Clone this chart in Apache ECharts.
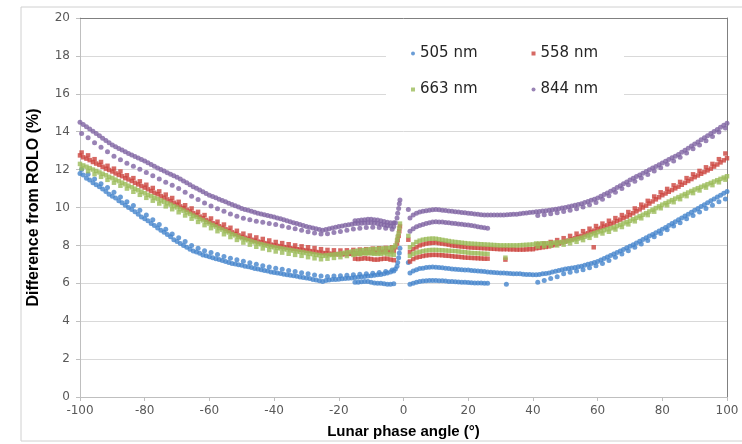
<!DOCTYPE html>
<html>
<head>
<meta charset="utf-8">
<script src="https://cdn.jsdelivr.net/npm/echarts@6/dist/echarts.min.js"></script>
<style>
  html, body { margin: 0; padding: 0; background: #fff; }
  #chart { width: 742px; height: 444px; }
</style>
</head>
<body>
<div id="chart"></div>
<script>
    // 系列名称 / series names
    var seriesNames = ['505 nm', '558 nm', '663 nm', '844 nm'];
    var seriesColors = ['#4584cc', '#cc433d', '#9bbb59', '#8064a2'];
    var seriesSymbols = ['circle', 'rect', 'rect', 'circle'];
    var seriesSizes = [5, 4.5, 4.5, 5];
    var xTicks = [-100, -80, -60, -40, -20, 0, 20, 40, 60, 80, 100];

    // phase angle grids of the tracks (degrees)
    var xNeg = [-100,-99,-98,-97,-96,-95,-94,-93,-92,-91,
        -90,-89,-88,-87,-86,-85,-84,-83,-82,-81,
        -80,-79,-78,-77,-76,-75,-74,-73,-72,-71,
        -70,-69,-68,-67,-66,-65,-64,-63,-62,-61,
        -60,-59,-58,-57,-56,-55,-54,-53,-52,-51,
        -50,-49,-48,-47,-46,-45,-44,-43,-42,-41,
        -40,-39,-38,-37,-36,-35,-34,-33,-32,-31,
        -30,-29,-28,-27,-26,-25,-24,-23,-22,-21,
        -20,-19,-18,-17,-16,-15,-14,-13,-12,-11,
        -10,-9,-8,-7,-6,-5,-4,-3];
    var xNeg2 = [-99.5,-97.5,-95.5,-93.5,-91.5,-89.5,-87.5,-85.5,-83.5,-81.5,
        -79.5,-77.5,-75.5,-73.5,-71.5,-69.5,-67.5,-65.5,-63.5,-61.5,
        -59.5,-57.5,-55.5,-53.5,-51.5,-49.5,-47.5,-45.5,-43.5,-41.5,
        -39.5,-37.5,-35.5,-33.5,-31.5,-29.5,-27.5,-25.5,-23.5,-21.5,
        -19.5,-17.5,-15.5,-13.5,-11.5,-9.5,-7.5,-5.5,-3.5];
    var xIn = [-15,-14,-13,-12,-11,-10,-9,-8,-7,-6,-5,-4,-3];
    var xSpike = [-2.5,-2,-1.8,-1.5,-1.3,-1.1];
    var xPosU = [2,3,4,5,6,7,8,9,10,11,
        12,13,14,15,16,17,18,19,20,21,
        22,23,24,25,26,27,28,29,30,31,
        32,33,34,35,36,37,38,39,40];
    var xPosL = [2,3,4,5,6,7,8,9,10,11,
        12,13,14,15,16,17,18,19,20,21,
        22,23,24,25,26];
    var xRise = [41,42,43,44,45,46,47,48,49,50,
        51,52,53,54,55,56,57,58,59,60,
        61,62,63,64,65,66,67,68,69,70,
        71,72,73,74,75,76,77,78,79,80,
        81,82,83,84,85,86,87,88,89,90,
        91,92,93,94,95,96,97,98,99,100];
    var xRise2 = [41.5,43.5,45.5,47.5,49.5,51.5,53.5,55.5,57.5,59.5,
        61.5,63.5,65.5,67.5,69.5,71.5,73.5,75.5,77.5,79.5,
        81.5,83.5,85.5,87.5,89.5,91.5,93.5,95.5,97.5,99.5];

    // 505 nm (%)
    var y505NegMain = [11.8,11.72,11.55,11.45,11.3,11.2,11.1,10.98,10.85,10.7,
        10.6,10.5,10.35,10.25,10.12,10.0,9.9,9.78,9.65,9.5,
        9.4,9.3,9.15,9.05,8.92,8.8,8.7,8.58,8.45,8.3,
        8.2,8.1,8.0,7.9,7.8,7.7,7.65,7.58,7.5,7.45,
        7.4,7.35,7.3,7.25,7.2,7.15,7.1,7.05,7.02,6.98,
        6.95,6.9,6.87,6.83,6.78,6.75,6.72,6.68,6.65,6.6,
        6.57,6.55,6.52,6.48,6.45,6.42,6.4,6.37,6.33,6.3,
        6.28,6.25,6.2,6.17,6.13,6.1,6.15,6.18,6.2,6.2,
        6.22,6.24,6.25,6.27,6.28,6.3,6.32,6.34,6.36,6.38,
        6.4,6.42,6.45,6.47,6.5,6.55,6.6,6.65];
    var y505NegSub = [12.0,11.75,11.5,11.25,11.05,10.8,10.55,10.3,10.1,9.85,
        9.6,9.35,9.1,8.85,8.6,8.4,8.2,8.0,7.85,7.72,
        7.62,7.52,7.42,7.32,7.24,7.16,7.08,7.0,6.93,6.86,
        6.8,6.74,6.68,6.62,6.56,6.5,6.44,6.38,6.36,6.38,
        6.4,6.42,6.45,6.48,6.5,6.53,6.57,6.62,6.7];
    var y505NegIn = [6.05,6.05,6.08,6.1,6.1,6.05,6.02,6.0,6.0,5.98,5.95,5.95,5.98];
    var y505Spike = [6.75,6.9,7.1,7.35,7.6,7.85];
    var y505PosU = [6.55,6.65,6.72,6.78,6.8,6.83,6.85,6.86,6.85,6.84,
        6.82,6.8,6.78,6.76,6.74,6.73,6.72,6.7,6.7,6.68,
        6.66,6.65,6.63,6.62,6.6,6.58,6.57,6.56,6.55,6.54,
        6.53,6.52,6.5,6.5,6.5,6.48,6.47,6.46,6.45];
    var y505PosL = [5.95,6.0,6.05,6.1,6.12,6.14,6.15,6.15,6.15,6.14,
        6.13,6.12,6.1,6.1,6.08,6.07,6.06,6.05,6.04,6.03,
        6.02,6.02,6.01,6.0,6.0];
    var y505Rise = [6.45,6.47,6.5,6.52,6.55,6.6,6.64,6.67,6.71,6.75,
        6.78,6.81,6.84,6.87,6.9,6.95,7.0,7.05,7.1,7.15,
        7.23,7.31,7.39,7.47,7.55,7.63,7.71,7.79,7.87,7.95,
        8.04,8.13,8.22,8.31,8.4,8.49,8.58,8.67,8.76,8.85,
        8.95,9.05,9.15,9.25,9.35,9.45,9.55,9.65,9.75,9.85,
        9.95,10.05,10.15,10.25,10.35,10.45,10.55,10.65,10.75,10.85];
    var y505RiseSub = [6.05,6.15,6.25,6.35,6.5,6.58,6.65,6.72,6.82,6.92,
        7.05,7.2,7.38,7.55,7.72,7.9,8.08,8.26,8.45,8.63,
        8.82,9.02,9.2,9.4,9.58,9.76,9.95,10.12,10.3,10.45];
    var x505Stray = [1.5, 31.8];
    var y505Stray = [7.1, 5.95];

    // 558 nm (%)
    var y558NegMain = [12.75,12.65,12.58,12.5,12.4,12.32,12.25,12.15,12.05,11.98,
        11.9,11.8,11.72,11.65,11.55,11.48,11.4,11.3,11.22,11.13,
        11.05,10.96,10.87,10.78,10.7,10.6,10.52,10.43,10.34,10.25,
        10.15,10.06,9.97,9.88,9.79,9.7,9.61,9.52,9.43,9.34,
        9.25,9.17,9.09,9.01,8.93,8.85,8.77,8.69,8.61,8.53,
        8.45,8.4,8.35,8.3,8.25,8.2,8.16,8.12,8.08,8.04,
        8.0,7.97,7.94,7.91,7.88,7.85,7.82,7.8,7.77,7.75,
        7.72,7.7,7.67,7.65,7.62,7.6,7.58,7.56,7.55,7.54,
        7.53,7.53,7.54,7.55,7.56,7.57,7.58,7.6,7.61,7.62,
        7.63,7.64,7.65,7.66,7.67,7.68,7.7,7.72];
    var y558NegSub = [12.9,12.75,12.55,12.4,12.2,12.05,11.9,11.7,11.55,11.38,
        11.2,11.03,10.85,10.68,10.5,10.3,10.12,9.95,9.77,9.6,
        9.42,9.25,9.1,8.93,8.77,8.62,8.52,8.42,8.34,8.26,
        8.18,8.12,8.06,8.0,7.95,7.9,7.86,7.8,7.76,7.74,
        7.73,7.74,7.76,7.78,7.8,7.83,7.85,7.87,7.9];
    var y558NegIn = [7.3,7.28,7.3,7.32,7.3,7.28,7.25,7.25,7.28,7.3,7.3,7.25,7.22];
    var y558Spike = [7.9,8.1,8.3,8.5,8.75,9.0];
    var y558PosU = [7.65,7.8,7.9,8.0,8.05,8.1,8.12,8.14,8.15,8.12,
        8.1,8.07,8.04,8.0,7.98,7.96,7.94,7.92,7.9,7.89,
        7.88,7.87,7.86,7.85,7.84,7.83,7.82,7.81,7.8,7.8,
        7.8,7.79,7.79,7.78,7.78,7.78,7.79,7.8,7.8];
    var y558PosL = [7.15,7.28,7.36,7.4,7.44,7.47,7.49,7.5,7.5,7.49,
        7.48,7.46,7.45,7.43,7.41,7.4,7.38,7.36,7.35,7.34,
        7.33,7.32,7.31,7.3,7.3];
    var y558Rise = [7.85,7.87,7.9,7.92,7.95,8.0,8.05,8.1,8.15,8.2,
        8.26,8.32,8.38,8.44,8.5,8.57,8.64,8.71,8.78,8.85,
        8.92,8.99,9.06,9.13,9.2,9.28,9.36,9.44,9.52,9.6,
        9.7,9.8,9.9,10.0,10.1,10.21,10.32,10.43,10.54,10.65,
        10.74,10.83,10.92,11.01,11.1,11.2,11.3,11.4,11.5,11.6,
        11.69,11.78,11.87,11.96,12.05,12.16,12.27,12.38,12.49,12.6];
    var y558RiseSub = [8.05,8.1,8.18,8.28,8.38,8.5,8.62,8.75,8.88,9.02,
        9.15,9.3,9.44,9.6,9.76,9.95,10.15,10.35,10.58,10.8,
        10.98,11.17,11.35,11.55,11.75,11.93,12.12,12.3,12.55,12.85];
    var x558Stray = [1.5, 31.5, 58.8];
    var y558Stray = [8.3, 7.25, 7.9];

    // 663 nm (%)
    var y663NegMain = [12.3,12.22,12.15,12.08,12.0,11.93,11.85,11.78,11.7,11.62,
        11.55,11.47,11.39,11.31,11.23,11.15,11.07,10.99,10.91,10.83,
        10.75,10.67,10.6,10.52,10.45,10.37,10.3,10.22,10.15,10.07,
        10.0,9.91,9.83,9.74,9.66,9.57,9.49,9.4,9.32,9.23,
        9.15,9.07,8.99,8.91,8.83,8.75,8.68,8.6,8.53,8.45,
        8.38,8.32,8.27,8.21,8.16,8.1,8.06,8.02,7.98,7.94,
        7.9,7.87,7.84,7.81,7.78,7.75,7.72,7.69,7.66,7.63,
        7.6,7.57,7.54,7.51,7.48,7.45,7.47,7.49,7.51,7.53,
        7.55,7.58,7.61,7.64,7.67,7.7,7.72,7.74,7.76,7.78,
        7.8,7.81,7.82,7.83,7.84,7.85,7.87,7.9];
    var y663NegSub = [12.06,11.92,11.76,11.62,11.46,11.31,11.15,11.0,10.83,10.67,
        10.51,10.36,10.21,10.06,9.91,9.75,9.58,9.41,9.24,9.07,
        8.91,8.75,8.59,8.44,8.29,8.15,8.04,7.93,7.84,7.76,
        7.68,7.62,7.56,7.5,7.45,7.38,7.32,7.27,7.3,7.34,
        7.38,7.44,7.5,7.54,7.57,7.6,7.62,7.64,7.68];
    var y663NegIn = [7.55,7.57,7.58,7.6,7.6,7.58,7.56,7.55,7.56,7.58,7.55,7.52,7.5];
    var y663Spike = [8.0,8.25,8.45,8.65,8.9,9.15];
    var y663PosU = [7.9,8.05,8.18,8.25,8.3,8.33,8.35,8.36,8.35,8.32,
        8.29,8.26,8.23,8.2,8.18,8.16,8.14,8.12,8.1,8.09,
        8.08,8.07,8.06,8.05,8.04,8.03,8.02,8.01,8.0,8.0,
        8.0,8.0,8.0,8.0,8.01,8.02,8.03,8.04,8.05];
    var y663PosL = [7.45,7.55,7.62,7.66,7.7,7.73,7.75,7.76,7.76,7.75,
        7.74,7.73,7.72,7.71,7.7,7.68,7.66,7.64,7.62,7.6,
        7.59,7.58,7.57,7.56,7.55];
    var y663Rise = [8.1,8.1,8.11,8.11,8.12,8.13,8.15,8.16,8.18,8.2,
        8.24,8.28,8.32,8.36,8.4,8.46,8.52,8.58,8.64,8.7,
        8.75,8.8,8.85,8.9,8.95,9.02,9.09,9.16,9.23,9.3,
        9.38,9.46,9.54,9.62,9.7,9.79,9.88,9.97,10.06,10.15,
        10.23,10.31,10.39,10.47,10.55,10.63,10.71,10.79,10.87,10.95,
        11.02,11.09,11.16,11.23,11.3,11.37,11.44,11.51,11.58,11.65];
    var y663RiseSub = [7.95,7.96,7.98,8.0,8.04,8.11,8.19,8.28,8.4,8.52,
        8.63,8.72,8.84,8.97,9.11,9.27,9.43,9.6,9.78,9.96,
        10.12,10.28,10.44,10.6,10.76,10.9,11.05,11.18,11.33,11.47];
    var x663Stray = [1.5, 31.5];
    var y663Stray = [8.5, 7.35];

    // 844 nm (%)
    var y844NegMain = [14.5,14.38,14.26,14.14,14.02,13.9,13.78,13.66,13.54,13.42,
        13.3,13.21,13.12,13.03,12.94,12.85,12.77,12.69,12.61,12.53,
        12.45,12.36,12.27,12.18,12.09,12.0,11.92,11.84,11.76,11.68,
        11.6,11.5,11.4,11.3,11.2,11.1,11.01,10.92,10.83,10.74,
        10.65,10.58,10.51,10.44,10.37,10.3,10.23,10.16,10.09,10.02,
        9.95,9.9,9.85,9.8,9.75,9.7,9.66,9.62,9.58,9.54,
        9.5,9.45,9.4,9.35,9.3,9.25,9.2,9.15,9.1,9.05,
        9.0,8.96,8.92,8.88,8.84,8.8,8.84,8.88,8.92,8.96,
        9.0,9.03,9.06,9.09,9.12,9.15,9.16,9.17,9.18,9.19,
        9.2,9.18,9.15,9.12,9.08,9.05,9.02,9.0];
    var y844NegSub = [13.9,13.68,13.42,13.18,12.94,12.7,12.52,12.34,12.18,12.02,
        11.85,11.68,11.5,11.33,11.17,11.0,10.8,10.6,10.42,10.24,
        10.08,9.94,9.8,9.66,9.54,9.43,9.35,9.28,9.22,9.16,
        9.1,9.02,8.95,8.88,8.8,8.72,8.65,8.6,8.62,8.68,
        8.74,8.8,8.86,8.9,8.94,8.96,8.95,8.9,8.85];
    var y844NegIn = [9.3,9.32,9.34,9.36,9.38,9.38,9.36,9.34,9.3,9.26,9.22,9.2,9.2];
    var y844Spike = [9.2,9.45,9.7,9.95,10.2,10.4];
    var y844PosU = [9.45,9.6,9.7,9.76,9.8,9.83,9.85,9.88,9.9,9.88,
        9.86,9.84,9.82,9.8,9.78,9.76,9.74,9.72,9.7,9.68,
        9.66,9.64,9.62,9.6,9.6,9.6,9.6,9.6,9.6,9.61,
        9.62,9.63,9.64,9.65,9.67,9.69,9.71,9.73,9.75];
    var y844PosL = [8.75,8.88,8.98,9.05,9.1,9.15,9.2,9.23,9.25,9.24,
        9.23,9.21,9.19,9.17,9.15,9.13,9.11,9.09,9.07,9.05,
        9.02,8.99,8.96,8.93,8.9];
    var y844Rise = [9.77,9.79,9.81,9.83,9.85,9.88,9.91,9.94,9.97,10.0,
        10.04,10.08,10.12,10.16,10.2,10.26,10.32,10.38,10.44,10.5,
        10.59,10.68,10.77,10.86,10.95,11.05,11.15,11.25,11.35,11.45,
        11.54,11.63,11.72,11.81,11.9,11.99,12.08,12.17,12.26,12.35,
        12.44,12.53,12.62,12.71,12.8,12.91,13.02,13.13,13.24,13.35,
        13.46,13.57,13.68,13.79,13.9,14.01,14.12,14.23,14.34,14.45];
    var y844RiseSub = [9.58,9.62,9.67,9.72,9.79,9.86,9.94,10.03,10.15,10.27,
        10.44,10.62,10.8,11.0,11.2,11.38,11.56,11.74,11.92,12.1,
        12.28,12.46,12.65,12.87,13.1,13.3,13.52,13.75,13.98,14.2];
    var x844Stray = [1.5];
    var y844Stray = [9.9];

    function track(xs, ys) {
        var out = [];
        for (var i = 0; i < xs.length && i < ys.length; i++) {
            out.push([xs[i], ys[i]]);
        }
        return out;
    }

    function collect(parts) {
        var all = [];
        for (var i = 0; i < parts.length; i++) {
            all = all.concat(track(parts[i][0], parts[i][1]));
        }
        return all;
    }

    var seriesPoints = [
        collect([[xNeg, y505NegMain], [xNeg2, y505NegSub], [xIn, y505NegIn], [xSpike, y505Spike],
            [xPosU, y505PosU], [xPosL, y505PosL], [xRise, y505Rise], [xRise2, y505RiseSub], [x505Stray, y505Stray]]),
        collect([[xNeg, y558NegMain], [xNeg2, y558NegSub], [xIn, y558NegIn], [xSpike, y558Spike],
            [xPosU, y558PosU], [xPosL, y558PosL], [xRise, y558Rise], [xRise2, y558RiseSub], [x558Stray, y558Stray]]),
        collect([[xNeg, y663NegMain], [xNeg2, y663NegSub], [xIn, y663NegIn], [xSpike, y663Spike],
            [xPosU, y663PosU], [xPosL, y663PosL], [xRise, y663Rise], [xRise2, y663RiseSub], [x663Stray, y663Stray]]),
        collect([[xNeg, y844NegMain], [xNeg2, y844NegSub], [xIn, y844NegIn], [xSpike, y844Spike],
            [xPosU, y844PosU], [xPosL, y844PosL], [xRise, y844Rise], [xRise2, y844RiseSub], [x844Stray, y844Stray]])
    ];

    var mychart = echarts.init(document.getElementById('chart'));

    var series = [];
    for (var s = 0; s < seriesNames.length; s++) {
        series.push({
            name: seriesNames[s],
            type: 'scatter',
            symbol: seriesSymbols[s],
            symbolSize: seriesSizes[s],
            itemStyle: { color: seriesColors[s] },
            data: seriesPoints[s]
        });
    }

    var labelFont = { fontFamily: 'DejaVu Sans', fontSize: 12, color: '#595959' };
    var legendText = { fontFamily: 'DejaVu Sans', fontSize: 15, color: '#262626' };

    mychart.setOption({
        animation: false,
        color: seriesColors,
        // chart area frame and the white box behind the legend
        graphic: [
            { type: 'rect', z: 0, shape: { x: 21, y: 7, width: 760, height: 434 },
              style: { fill: 'none', stroke: '#d0d0d0', lineWidth: 1 } },
            { type: 'rect', z: 1, shape: { x: 386, y: 40, width: 238, height: 68 },
              style: { fill: '#ffffff' } }
        ],
        legend: [
            { data: ['505 nm', '558 nm'], left: 411, top: 46, padding: 0, itemGap: 54,
              itemWidth: 4, itemHeight: 4, textStyle: legendText },
            { data: ['663 nm', '844 nm'], left: 411, top: 82, padding: 0, itemGap: 54,
              itemWidth: 4, itemHeight: 4, textStyle: legendText }
        ],
        grid: { left: 80, right: 15, top: 18, bottom: 47, containLabel: false },
        xAxis: [
            {
                type: 'value', min: -100, max: 100, interval: 20,
                name: 'Lunar phase angle (°)', nameLocation: 'middle', nameGap: 27,
                nameTextStyle: { fontFamily: 'Liberation Sans', fontWeight: 'bold', fontSize: 15, color: '#000' },
                axisLine: { onZero: false, lineStyle: { color: '#bfbfbf' } },
                axisTick: { length: 4, lineStyle: { color: '#bfbfbf' } },
                axisLabel: Object.assign({ margin: 8, formatter: function (v) { return xTicks.indexOf(v) >= 0 ? String(v) : ''; } }, labelFont),
                splitLine: { show: false }
            },
            {
                type: 'value', min: -100, max: 100, position: 'top',
                axisLine: { onZero: false, lineStyle: { color: '#808080' } },
                axisTick: { show: false }, axisLabel: { show: false }, splitLine: { show: false }
            }
        ],
        yAxis: [
            {
                type: 'value', min: 0, max: 20, interval: 2,
                name: 'Difference from ROLO (%)', nameLocation: 'middle', nameGap: 38,
                nameTextStyle: { fontFamily: 'Liberation Sans', fontWeight: 'bold', fontSize: 16, color: '#000' },
                axisLine: { show: true, onZero: false, lineStyle: { color: '#bfbfbf' } },
                axisTick: { show: true, length: 4, lineStyle: { color: '#bfbfbf' } },
                axisLabel: Object.assign({ margin: 10 }, labelFont),
                splitLine: { lineStyle: { color: '#d9d9d9' } }
            },
            {
                type: 'value', min: 0, max: 20, position: 'right',
                axisLine: { show: true, onZero: false, lineStyle: { color: '#808080' } },
                axisTick: { show: false }, axisLabel: { show: false }, splitLine: { show: false }
            }
        ],
        series: series
    });
</script>
</body>
</html>
